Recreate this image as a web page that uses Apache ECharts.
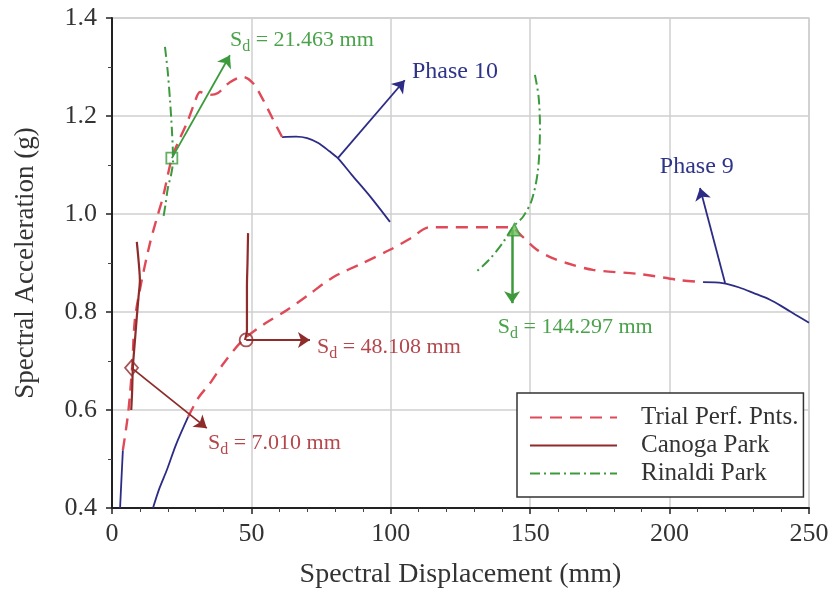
<!DOCTYPE html>
<html><head><meta charset="utf-8">
<script src="https://cdn.jsdelivr.net/npm/echarts@6/dist/echarts.min.js"></script>
<style>html,body{margin:0;padding:0;background:#fff}#c{width:838px;height:598px}</style>
</head><body><div id="c"></div>
<script>
// ---- data (x = spectral displacement mm, y = spectral acceleration g) ----
const xMin = 0, xMax = 250, xStep = 50;
const yMin = 0.4, yMax = 1.4, yStep = 0.2;

const trialPhase10 = [[3.9,0.518],[5.8,0.594],[7.2,0.686],[8.2,0.784],[10.5,0.86],[13.6,0.94],[16,0.99],[18.3,1.035],[21.463,1.114],[24,1.15],[26.9,1.186],[29.5,1.225],[31.6,1.249],[35.1,1.243],[38,1.247],[42.3,1.269],[47,1.28],[50.6,1.267],[54.2,1.233],[57.5,1.196],[61,1.157]];
const trialPhase9 = [[27.3,0.586],[31,0.625],[35.2,0.655],[40,0.695],[47,0.743],[55,0.777],[62.8,0.804],[70,0.833],[79.3,0.871],[90,0.9],[99.7,0.927],[107,0.95],[114,0.973],[142.8,0.973],[147,0.955],[152.4,0.927],[158,0.91],[163,0.9],[172.5,0.886],[190,0.877],[203.7,0.865],[212,0.861]];
const phase10Low = [[2.9,0.4],[3.4,0.46],[3.9,0.518]];
const phase10High = [[61,1.157],[66,1.158],[70,1.155],[74,1.145],[78,1.128],[81,1.114],[86,1.08],[92,1.04],[99.7,0.984]];
const phase9Low = [[14.7,0.4],[17,0.44],[19.7,0.478],[23,0.53],[27.3,0.586]];
const phase9High = [[212,0.861],[219,0.859],[225,0.85],[230,0.839],[236,0.825],[240.7,0.81],[245,0.795],[250,0.778]];
const canoga1 = [[8.9,0.943],[9.6,0.9],[10,0.865],[9.5,0.83],[8.9,0.79],[8.2,0.74],[7.5,0.688],[7.2,0.635],[6.9,0.6]];
const canoga2 = [[48.8,0.961],[48.6,0.9],[48.4,0.851],[48.4,0.8],[48.4,0.763],[47.7,0.743]];
const rinaldi1 = [[19,1.341],[20,1.29],[20.8,1.233],[21.5,1.17],[21.9,1.11],[21.2,1.08],[20.1,1.055],[19.2,1.02],[18.3,0.988]];
const rinaldi2 = [[151.7,1.284],[153,1.24],[153.5,1.178],[152.8,1.09],[150.6,1.029],[147.5,0.995],[143.8,0.973],[140,0.94],[135,0.905],[130.2,0.88]];

const perfPoints = { canoga7: [7.01,0.686], canoga48: [48.108,0.743], rinaldi21: [21.463,1.114], rinaldi144: [144.297,0.968] };
const arrows = {
  canoga7: [[7.01,0.686],[34,0.563]],
  canoga48: [[48.108,0.743],[71,0.743]],
  rinaldi21: [[21.463,1.114],[42.3,1.324]],
  rinaldi144: [[143.5,0.968],[143.5,0.818]],
  phase10: [[81,1.114],[105,1.273]],
  phase9: [[219.9,0.859],[210.9,1.053]]
};
const labels = {
  canoga7: {at:[34.4,0.533], text:'7.010 mm'},
  canoga48: {at:[73.5,0.729], text:'48.108 mm'},
  rinaldi21: {at:[42.3,1.355], text:'21.463 mm'},
  rinaldi144: {at:[138.4,0.769], text:'144.297 mm'},
  phase10: {at:[107.6,1.29], text:'Phase 10'},
  phase9: {at:[196.5,1.096], text:'Phase 9'}
};
const legendNames = ['Trial Perf. Pnts.','Canoga Park','Rinaldi Park'];

// ---- styles ----
const FONT = '"Liberation Serif","DejaVu Serif",serif';
const RED = '#e04a58', DARKRED = '#8e2b2b', GREEN = '#3c9a3c', BLUE = '#2c2c86';
const RED_TXT = '#b5474c', GREEN_TXT = '#4aa24a', BLUE_TXT = '#2e3588';

function sdRich(color){
  return {
    s:{fontFamily:FONT,fontSize:22,color:color,lineHeight:30,verticalAlign:'middle'},
    sub:{fontFamily:FONT,fontSize:16,color:color,lineHeight:30,verticalAlign:'bottom'}
  };
}
function annot(key, color, isSd){
  const l = labels[key];
  return {
    coord: l.at, symbol:'circle', symbolSize:0,
    label:{show:true, position:'right', distance:0,
      formatter: isSd ? ('{s|S}{sub|d}{s| = '+l.text+'}') : l.text,
      rich: isSd ? sdRich(color) : undefined,
      fontFamily:FONT, fontSize:24, color:color}
  };
}
function arrowLine(key, color, width){
  const a = arrows[key];
  return [{coord:a[0], lineStyle:{color:color,width:width||1.8,type:'solid'}},{coord:a[1]}];
}

const chart = echarts.init(document.getElementById('c'), null, {renderer:'canvas'});
const trialStyle = {color:RED, width:2.4, type:[12,8]};
const canogaStyle = {color:DARKRED, width:2.2, type:'solid'};
const rinaldiStyle = {color:GREEN, width:2, type:[10,4,2,4]};
const blueStyle = {color:BLUE, width:1.8, type:'solid'};

function lineSeries(name, data, style, z){
  return {type:'line', name:name, data:data, symbol:'none', showSymbol:false, smooth:0.3,
    lineStyle:style, itemStyle:{color:style.color}, z:z||2, silent:true, animation:false};
}

const option = {
  animation:false,
  backgroundColor:'#fff',
  grid:{left:112, right:29, top:18, bottom:90, show:true, borderColor:'#cfcfcf', borderWidth:1.5},
  xAxis:{type:'value', min:xMin, max:xMax, interval:xStep,
    name:'Spectral Displacement (mm)', nameLocation:'middle', nameGap:53,
    nameTextStyle:{fontFamily:FONT, fontSize:28, color:'#333'},
    axisLine:{show:true, onZero:false, lineStyle:{color:'#222', width:2}},
    axisTick:{show:true, inside:false, length:6, lineStyle:{color:'#222', width:1.5}},
    minorTick:{show:true, splitNumber:5, length:4, lineStyle:{color:'#444', width:1}},
    axisLabel:{fontFamily:FONT, fontSize:26, color:'#333', margin:13},
    splitLine:{show:true, lineStyle:{color:'#cfcfcf', width:1.5}}
  },
  yAxis:{type:'value', min:yMin, max:yMax, interval:yStep,
    name:'Spectral Acceleration (g)', nameLocation:'middle', nameGap:73,
    nameTextStyle:{fontFamily:FONT, fontSize:27, color:'#333'},
    axisLine:{show:true, onZero:false, lineStyle:{color:'#222', width:2}},
    axisTick:{show:true, inside:false, length:6, lineStyle:{color:'#222', width:1.5}},
    minorTick:{show:true, splitNumber:2, length:4, lineStyle:{color:'#444', width:1}},
    axisLabel:{fontFamily:FONT, fontSize:26, color:'#333', margin:15, formatter:v=>v.toFixed(1)},
    splitLine:{show:true, lineStyle:{color:'#cfcfcf', width:1.5}}
  },
  legend:{data:legendNames, orient:'vertical', left:517, top:393,
    backgroundColor:'#fff', borderColor:'#333', borderWidth:1.5, borderRadius:0,
    padding:[12,5,11,12], itemGap:3, itemWidth:87, itemHeight:20,
    itemStyle:{opacity:0},
    textStyle:{fontFamily:FONT, fontSize:25, color:'#333', padding:[0,0,0,19]},
    selectedMode:false},
  series:[
    lineSeries('Trial Perf. Pnts.', trialPhase10, trialStyle, 3),
    lineSeries('Trial Perf. Pnts.', trialPhase9, trialStyle, 3),
    lineSeries('Phase 10 low', phase10Low, blueStyle),
    Object.assign(lineSeries('Phase 10 high', phase10High, blueStyle), {
      markLine:{silent:true, symbol:['none','arrow'], symbolSize:12, label:{show:false}, animation:false,
        data:[arrowLine('phase10', BLUE)]},
      markPoint:{silent:true, animation:false, data:[annot('phase10', BLUE_TXT, false)]}
    }),
    lineSeries('Phase 9 low', phase9Low, blueStyle),
    Object.assign(lineSeries('Phase 9 high', phase9High, blueStyle), {
      markLine:{silent:true, symbol:['none','arrow'], symbolSize:12, label:{show:false}, animation:false,
        data:[arrowLine('phase9', BLUE)]},
      markPoint:{silent:true, animation:false, data:[annot('phase9', BLUE_TXT, false)]}
    }),
    Object.assign(lineSeries('Canoga Park', canoga1, canogaStyle, 4), {
      markLine:{silent:true, symbol:['none','arrow'], symbolSize:12, label:{show:false}, animation:false,
        data:[arrowLine('canoga7', DARKRED), arrowLine('canoga48', DARKRED)]},
      markPoint:{silent:true, animation:false, data:[annot('canoga7', RED_TXT, true), annot('canoga48', RED_TXT, true)]}
    }),
    lineSeries('Canoga Park', canoga2, canogaStyle, 4),
    Object.assign(lineSeries('Rinaldi Park', rinaldi1, rinaldiStyle, 4), {
      markLine:{silent:true, symbol:['none','arrow'], symbolSize:12, label:{show:false}, animation:false,
        data:[arrowLine('rinaldi21', GREEN), arrowLine('rinaldi144', GREEN, 2.5)]},
      markPoint:{silent:true, animation:false, data:[annot('rinaldi21', GREEN_TXT, true), annot('rinaldi144', GREEN_TXT, true)]}
    }),
    lineSeries('Rinaldi Park', rinaldi2, rinaldiStyle, 4),
    {type:'scatter', name:'pp1', data:[perfPoints.canoga7], symbol:'diamond', symbolSize:[13,15],
      itemStyle:{color:'rgba(255,255,255,0)', borderColor:DARKRED, borderWidth:1.8}, z:6, silent:true},
    {type:'scatter', name:'pp2', data:[perfPoints.canoga48], symbol:'circle', symbolSize:13,
      itemStyle:{color:'rgba(255,255,255,0)', borderColor:DARKRED, borderWidth:1.8}, z:6, silent:true},
    {type:'scatter', name:'pp3', data:[perfPoints.rinaldi21], symbol:'rect', symbolSize:11,
      itemStyle:{color:'rgba(255,255,255,0)', borderColor:GREEN, borderWidth:1.8}, z:6, silent:true},
    {type:'scatter', name:'pp4', data:[perfPoints.rinaldi144], symbol:'triangle', symbolSize:12,
      itemStyle:{color:'#6fbf5f', borderColor:GREEN, borderWidth:1.5}, z:6, silent:true}
  ]
};
chart.setOption(option);
</script></body></html>
